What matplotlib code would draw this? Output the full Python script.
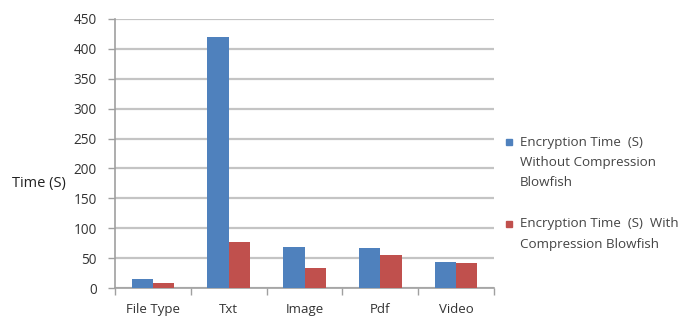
import matplotlib.pyplot as plt
import numpy as np
from matplotlib.patches import Rectangle

categories = ["File Type", "Txt", "Image", "Pdf", "Video"]
without_compression = [15, 420, 69, 67, 44]
with_compression = [8, 77, 34, 55, 42]
series_labels = [
    "Encryption Time  (S)\nWithout Compression\nBlowfish",
    "Encryption Time  (S)  With\nCompression Blowfish",
]
yticks = [0, 50, 100, 150, 200, 250, 300, 350, 400, 450]

plt.rcParams['font.family'] = ['Open Sans', 'DejaVu Sans']

W, H = 694, 322
fig = plt.figure(figsize=(W / 100, H / 100), dpi=100)
ax = fig.add_axes([115 / W, 1 - 288 / H, 379 / W, 269 / H])

x = np.arange(len(categories))
w = 0.28
blue = "#4F81BD"
red = "#C0504D"
colors = [blue, red]
ax.bar(x - w / 2, without_compression, w, color=blue, zorder=3)
ax.bar(x + w / 2, with_compression, w, color=red, zorder=3)

ax.set_xlim(-0.5, len(categories) - 0.5)
ax.set_ylim(0, 450)
ax.set_yticks(yticks)
ax.set_xticks(x)
ax.set_xticklabels(categories, fontsize=9.5, color="#333333")
ax.set_xticks(np.arange(-0.5, len(categories)), minor=True)
ax.tick_params(axis="x", which="major", length=0, pad=11)
ax.tick_params(axis="x", which="minor", length=5, width=1, color="#a0a0a0", direction="out")
ax.tick_params(axis="y", length=5, width=1, color="#a0a0a0", direction="out",
               labelsize=9.8, labelcolor="#333333", pad=8)

ax.grid(axis="y", color="#c4c4c4", linewidth=1.6, zorder=0)
for s in ["top", "right"]:
    ax.spines[s].set_visible(False)
for s in ["bottom", "left"]:
    ax.spines[s].set_color("#a0a0a0")
    ax.spines[s].set_linewidth(1.2)

fig.text(12 / W, 1 - 184 / H, "Time (S)", fontsize=10.5, color="#222222", va="center", ha="left")

# Legend drawn by hand: square marker beside the first line of each entry
entry_tops = [142, 224]
line_step = 20.5
for label, color, top in zip(series_labels, colors, entry_tops):
    fig.add_artist(Rectangle((506 / W, 1 - (top + 3) / H), 6 / W, 6 / H,
                             transform=fig.transFigure, color=color))
    for i, line in enumerate(label.split("\n")):
        fig.text(520 / W, 1 - (top + i * line_step) / H, line, fontsize=9.6,
                 color="#444444", va="center", ha="left")

fig.savefig("out.png", dpi=100, facecolor="white")
